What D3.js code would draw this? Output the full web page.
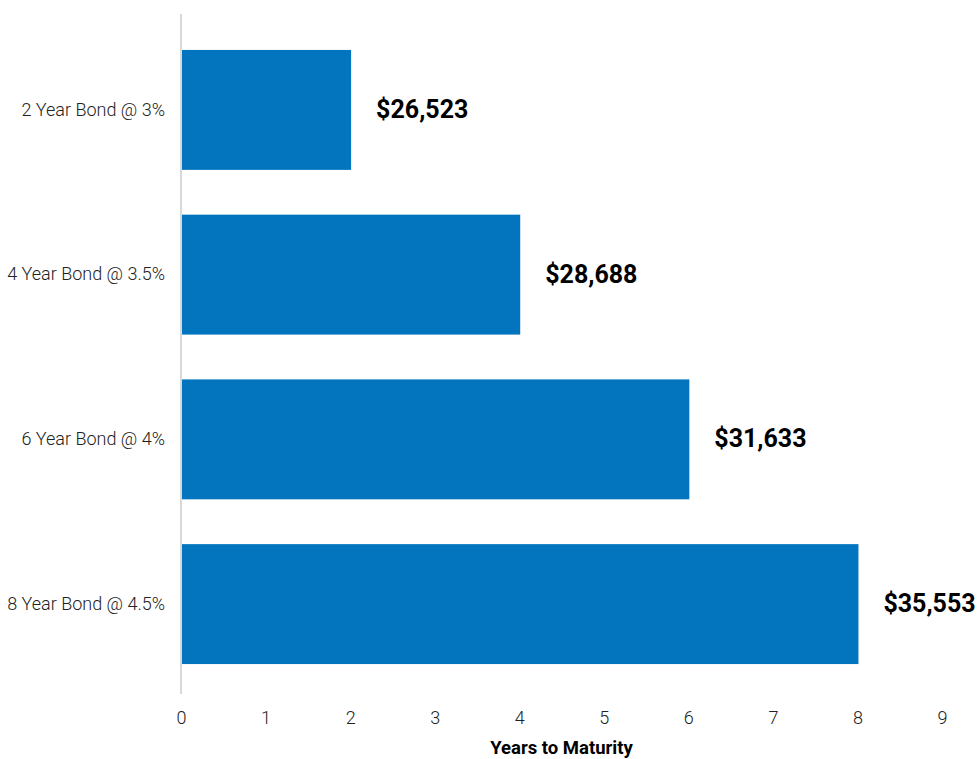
<!DOCTYPE html>
<html>
<head>
<meta charset="utf-8">
<script src="https://cdn.jsdelivr.net/npm/d3@7"></script>
<style>
  body { margin: 0; background: #fff; }
  svg { font-family: Roboto, "Open Sans", sans-serif; }
  .axis text { font-family: Roboto, sans-serif; font-weight: 300; font-size: 18px; fill: #222; }
  .valueLabel { font-weight: 700; font-size: 25px; fill: #000; }
  .axisTitle { font-weight: 700; font-size: 18.5px; fill: #000; }
</style>
</head>
<body>
<script>
var w = 978;
var h = 759;

// chart data
const bonds = ["2 Year Bond @ 3%", "4 Year Bond @ 3.5%", "6 Year Bond @ 4%", "8 Year Bond @ 4.5%"];
const years = [2, 4, 6, 8];
const values = ["$26,523", "$28,688", "$31,633", "$35,553"];
const xTicks = [0, 1, 2, 3, 4, 5, 6, 7, 8, 9];

const dataset = bonds.map((b, i) => ({ bond: b, years: years[i], value: values[i] }));

const xScale = d3.scaleLinear()
    .domain([0, 9])
    .range([181, 942]);

const yScale = d3.scaleBand()
    .domain(bonds)
    .range([17, 697])
    .paddingInner(0.272)
    .paddingOuter(0.2);

const svg = d3.select("body")
    .append("svg")
    .attr("width", w)
    .attr("height", h);

// bars
svg.selectAll("rect.bar")
    .data(dataset)
    .enter()
    .append("rect")
    .attr("class", "bar")
    .attr("x", xScale(0) + 1)
    .attr("y", d => yScale(d.bond))
    .attr("width", d => xScale(d.years) - xScale(0))
    .attr("height", yScale.bandwidth())
    .attr("fill", "#0275be");

// vertical axis line
svg.append("line")
    .attr("x1", xScale(0))
    .attr("x2", xScale(0))
    .attr("y1", 14)
    .attr("y2", 694)
    .attr("stroke", "#d9d9d9")
    .attr("stroke-width", 2);

// value labels
svg.selectAll("text.valueLabel")
    .data(dataset)
    .enter()
    .append("text")
    .attr("class", "valueLabel")
    .attr("x", d => xScale(d.years) + 26)
    .attr("y", d => yScale(d.bond) + yScale.bandwidth() / 2)
    .attr("dy", "0.32em")
    .text(d => d.value);

// axes
const xAxis = d3.axisBottom(xScale)
    .tickValues(xTicks)
    .tickFormat(d3.format("d"))
    .tickSize(0)
    .tickPadding(11);

const yAxis = d3.axisLeft(yScale)
    .tickSize(0)
    .tickPadding(16);

svg.append("g")
    .attr("class", "axis")
    .attr("transform", "translate(0, 700)")
    .call(xAxis)
    .call(g => g.select(".domain").remove());

svg.append("g")
    .attr("class", "axis")
    .attr("transform", `translate(${xScale(0)}, 0)`)
    .call(yAxis)
    .call(g => g.select(".domain").remove());

// d3 puts sans-serif / 10px on the axis group, drop it so the css applies
svg.selectAll(".axis").attr("font-family", null).attr("font-size", null);

// axis title
svg.append("text")
    .attr("class", "axisTitle")
    .attr("x", (xScale(0) + xScale(9)) / 2)
    .attr("y", 754)
    .attr("text-anchor", "middle")
    .text("Years to Maturity");
</script>
</body>
</html>
